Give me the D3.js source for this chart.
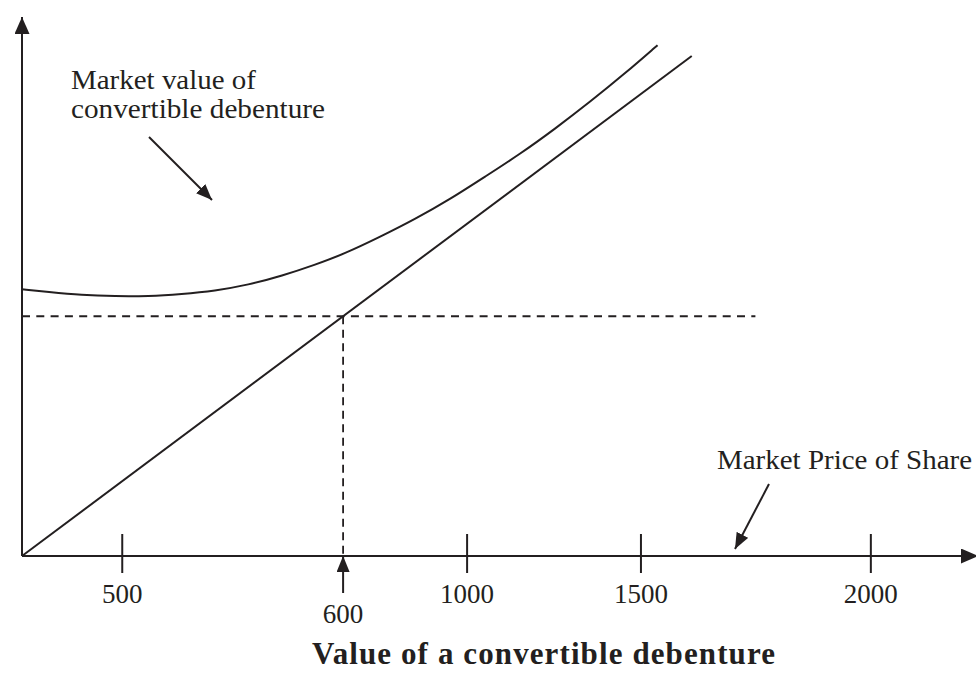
<!DOCTYPE html>
<html>
<head>
<meta charset="utf-8">
<script src="https://cdn.jsdelivr.net/npm/d3@7"></script>
<style>
  html, body { margin: 0; padding: 0; background: #fff; }
  svg { display: block; }
  text { font-family: "Liberation Serif", "Times New Roman", serif; fill: #231f20; }
</style>
</head>
<body>
<svg id="chart" width="976" height="675"></svg>
<script>
// Axis tick labels and where they sit along the horizontal axis (diagram units)
const tickLabels = ["500", "1000", "1500", "2000"];
const tickPositions = [10.5, 46.8, 65.1, 89.3];

// The marked conversion point on the horizontal axis
const markLabel = "600";
const markPosition = 33.8;
const floorLevel = 44.4;      // height of the dashed reference line
const floorEnd = 77.2;        // where the dashed reference line stops

// Conversion value: straight line from the origin
const conversionX = [0, 70.5];
const conversionY = [0, 92.6];

// Market value of the convertible debenture
const marketX = [0, 2.7, 6.3, 9.8, 13.3, 16.8, 20.3, 23.8, 27.4, 30.8, 34.0, 37.7, 41.4, 45.1, 48.7, 52.4, 56.1, 59.8, 63.5, 66.9];
const marketY = [49.4, 48.9, 48.3, 48.1, 48.1, 48.5, 49.1, 50.2, 51.9, 53.9, 56.0, 59.1, 62.4, 66.1, 70.2, 74.4, 79.1, 84.1, 89.4, 94.6];

const ink = "#231f20";
const svg = d3.select("#chart");

const x = d3.scaleLinear().domain([0, 100]).range([22, 972]);
const y = d3.scaleLinear().domain([0, 100]).range([556, 16]);

// Arrowhead markers
const defs = svg.append("defs");
function arrowMarker(id, len, wid) {
  defs.append("marker")
    .attr("id", id)
    .attr("markerUnits", "userSpaceOnUse")
    .attr("viewBox", `0 0 ${len} ${wid}`)
    .attr("refX", len).attr("refY", wid / 2)
    .attr("markerWidth", len).attr("markerHeight", wid)
    .attr("orient", "auto")
    .append("path")
    .attr("d", `M0,0 L${len},${wid / 2} L0,${wid} Z`)
    .attr("fill", ink);
}
arrowMarker("axisHead", 17, 15);
arrowMarker("noteHead", 16, 13);

// Axes
svg.append("line")
  .attr("x1", x(0)).attr("y1", y(0))
  .attr("x2", x(0)).attr("y2", 17)
  .attr("stroke", ink).attr("stroke-width", 2)
  .attr("marker-end", "url(#axisHead)");
svg.append("line")
  .attr("x1", x(0)).attr("y1", y(0))
  .attr("x2", 978).attr("y2", y(0))
  .attr("stroke", ink).attr("stroke-width", 2)
  .attr("marker-end", "url(#axisHead)");

// Horizontal axis ticks crossing the axis line
const xAxis = d3.axisBottom(x)
  .tickValues(tickPositions)
  .tickFormat((d, i) => tickLabels[i])
  .tickSize(0)
  .tickPadding(0);
const axisG = svg.append("g").attr("transform", `translate(0,${y(0)})`).call(xAxis);
axisG.select(".domain").remove();
axisG.selectAll(".tick line")
  .attr("y1", -22).attr("y2", 17)
  .attr("stroke", ink).attr("stroke-width", 2);
axisG.selectAll(".tick text")
  .attr("y", 47).attr("dy", null)
  .attr("font-family", "Liberation Serif")
  .attr("font-size", 27)
  .attr("fill", ink);

// Dashed reference lines through the conversion point
svg.append("line")
  .attr("x1", x(0)).attr("y1", y(floorLevel))
  .attr("x2", x(floorEnd)).attr("y2", y(floorLevel))
  .attr("stroke", ink).attr("stroke-width", 1.8)
  .attr("stroke-dasharray", "8,6.3");
svg.append("line")
  .attr("x1", x(markPosition)).attr("y1", y(floorLevel))
  .attr("x2", x(markPosition)).attr("y2", y(0))
  .attr("stroke", ink).attr("stroke-width", 1.8)
  .attr("stroke-dasharray", "8,5.5");

// Conversion value line
svg.append("line")
  .attr("x1", x(conversionX[0])).attr("y1", y(conversionY[0]))
  .attr("x2", x(conversionX[1])).attr("y2", y(conversionY[1]))
  .attr("stroke", ink).attr("stroke-width", 2);

// Market value curve
const market = marketX.map((v, i) => [v, marketY[i]]);
svg.append("path")
  .datum(market)
  .attr("d", d3.line().x(d => x(d[0])).y(d => y(d[1])).curve(d3.curveBasis))
  .attr("fill", "none")
  .attr("stroke", ink).attr("stroke-width", 2);

// Upward arrow marking 600 on the axis
svg.append("line")
  .attr("x1", x(markPosition)).attr("y1", y(0) + 37)
  .attr("x2", x(markPosition)).attr("y2", y(0))
  .attr("stroke", ink).attr("stroke-width", 2)
  .attr("marker-end", "url(#noteHead)");
svg.append("text")
  .attr("x", x(markPosition)).attr("y", 623)
  .attr("text-anchor", "middle")
  .attr("font-size", 27)
  .text(markLabel);

// Annotation: market value of convertible debenture
svg.append("text").attr("x", 71).attr("y", 89)
  .attr("font-size", 28).attr("textLength", 185).attr("lengthAdjust", "spacingAndGlyphs")
  .text("Market value of");
svg.append("text").attr("x", 71).attr("y", 118)
  .attr("font-size", 28).attr("textLength", 254).attr("lengthAdjust", "spacingAndGlyphs")
  .text("convertible debenture");
svg.append("line")
  .attr("x1", 149).attr("y1", 137)
  .attr("x2", 212).attr("y2", 200)
  .attr("stroke", ink).attr("stroke-width", 2)
  .attr("marker-end", "url(#noteHead)");

// Annotation: market price of share
svg.append("text").attr("x", 717).attr("y", 469)
  .attr("font-size", 28).attr("textLength", 255).attr("lengthAdjust", "spacingAndGlyphs")
  .text("Market Price of Share");
svg.append("line")
  .attr("x1", 769).attr("y1", 484)
  .attr("x2", 735).attr("y2", 549)
  .attr("stroke", ink).attr("stroke-width", 2)
  .attr("marker-end", "url(#noteHead)");

// Axis title
svg.append("text").attr("x", 312).attr("y", 664)
  .attr("font-size", 31).attr("font-weight", "bold")
  .attr("textLength", 463).attr("lengthAdjust", "spacing")
  .text("Value of a convertible debenture");
</script>
</body>
</html>
